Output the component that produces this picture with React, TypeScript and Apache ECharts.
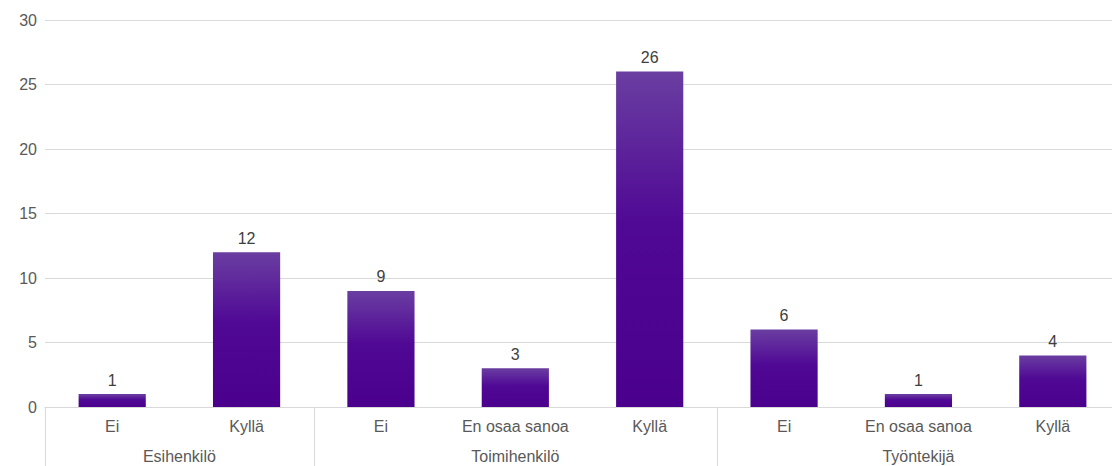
import React, { useEffect, useRef } from "react";
import * as echarts from "echarts";

// Answer categories, one entry per bar
const answers = ["Ei", "Kyllä", "Ei", "En osaa sanoa", "Kyllä", "Ei", "En osaa sanoa", "Kyllä"];
// Respondent counts for each bar
const counts = [1, 12, 9, 3, 26, 6, 1, 4];
// Respondent groups and how many answer categories each spans
const groups = ["Esihenkilö", "Toimihenkilö", "Työntekijä"];
const groupSizes = [2, 3, 3];
// Value axis ticks
const yMin = 0;
const yMax = 30;
const yStep = 5;

const FONT = "'Liberation Sans', Arial, sans-serif";
const TEXT = "#595959";
const LINE = "#d9d9d9";

export default function App() {
  const ref = useRef<HTMLDivElement>(null);

  useEffect(() => {
    // the chart is a little wider than the window; clip it at the right edge
    document.documentElement.style.overflow = "hidden";
    document.body.style.margin = "0";
    document.body.style.overflow = "hidden";
    const el = ref.current!;
    const chart = echarts.init(el, null, { renderer: "svg" });

    chart.setOption({
      animation: false,
      textStyle: { fontFamily: FONT },
      grid: { left: 45, right: 0, top: 20, bottom: 59, containLabel: false },
      xAxis: {
        type: "category",
        data: answers,
        axisLine: { show: true, lineStyle: { color: LINE, width: 1 } },
        axisTick: { show: false },
        axisLabel: { color: TEXT, fontSize: 16, margin: 11, fontFamily: FONT, interval: 0 },
      },
      yAxis: {
        type: "value",
        min: yMin,
        max: yMax,
        interval: yStep,
        axisLine: { show: false },
        axisTick: { show: false },
        axisLabel: { color: TEXT, fontSize: 16, margin: 8, fontFamily: FONT },
        splitLine: { lineStyle: { color: LINE, width: 1 } },
      },
      series: [
        {
          type: "bar",
          data: counts,
          barWidth: "50%",
          itemStyle: {
            color: new echarts.graphic.LinearGradient(0, 0, 0, 1, [
              { offset: 0, color: "#6a3ea1" },
              { offset: 0.45, color: "#500995" },
              { offset: 1, color: "#4a008c" },
            ]),
          },
          label: {
            show: true,
            position: "top",
            distance: 6,
            color: "#404040",
            fontSize: 16,
            fontFamily: FONT,
          },
        },
      ],
    });

    // Group labels and separators beneath the category labels
    const x0 = chart.convertToPixel({ xAxisIndex: 0 }, 0) as number;
    const x1 = chart.convertToPixel({ xAxisIndex: 0 }, 1) as number;
    const band = x1 - x0;
    const left = x0 - band / 2;
    const yBase = chart.convertToPixel({ yAxisIndex: 0 }, 0) as number;
    const h = el.clientHeight;

    const elements: any[] = [];
    let start = 0;
    const bounds = [0];
    groups.forEach((g, i) => {
      const end = start + groupSizes[i];
      bounds.push(end);
      const cx = left + ((start + end) / 2) * band;
      elements.push({
        type: "text",
        x: cx,
        y: yBase + 49,
        style: {
          text: g,
          fill: TEXT,
          font: `16px ${FONT}`,
          textAlign: "center",
          textVerticalAlign: "middle",
        },
      });
      start = end;
    });
    bounds.forEach((b) => {
      const x = Math.round(left + b * band) + 0.5;
      elements.push({
        type: "line",
        shape: { x1: x, y1: yBase, x2: x, y2: h },
        style: { stroke: LINE, lineWidth: 1 },
      });
    });
    chart.setOption({ graphic: { elements } });

    return () => chart.dispose();
  }, []);

  return <div ref={ref} style={{ width: 1120, height: 466 }} />;
}
